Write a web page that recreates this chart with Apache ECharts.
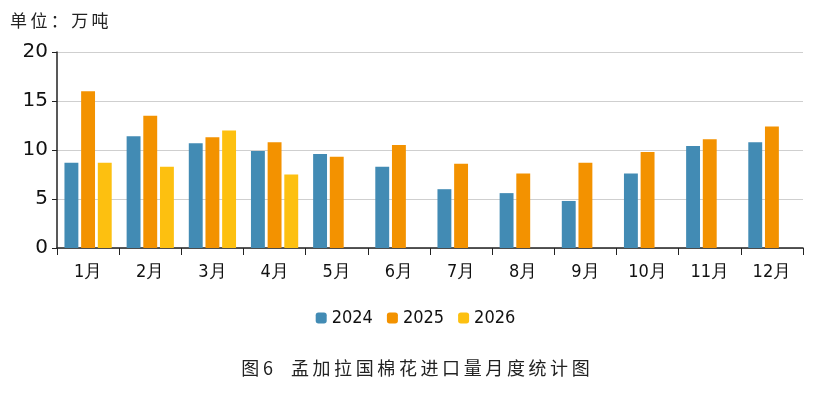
<!DOCTYPE html>
<html>
<head>
<meta charset="utf-8">
<title></title>
<script src="https://cdn.jsdelivr.net/npm/echarts@6/dist/echarts.min.js"></script>
<style>
  html,body{margin:0;padding:0;background:#fff;}
  #chartDiv{width:831px;height:402px;}
</style>
</head>
<body>
<div id="chartDiv"></div>
<script type="text/javascript">
    // 孟加拉国棉花进口量 (万吨)
    var months = ['1月','2月','3月','4月','5月','6月','7月','8月','9月','10月','11月','12月'];
    var y2024 = [8.7, 11.4, 10.7, 9.9, 9.6, 8.3, 6.0, 5.6, 4.8, 7.6, 10.4, 10.8];
    var y2025 = [16.0, 13.5, 11.3, 10.8, 9.3, 10.5, 8.6, 7.6, 8.7, 9.8, 11.1, 12.4];
    var y2026 = [8.7, 8.3, 12.0, 7.5, null, null, null, null, null, null, null, null];
    var yTicks = [0, 5, 10, 15, 20];

    var chart = echarts.init(document.getElementById('chartDiv'));
    var font = 'DejaVu Sans, sans-serif';
    var narrow = '"DejaVu Sans Condensed", "DejaVu Sans", sans-serif';
    var ts = '\u2009';

    var option = {
        animation: false,
        color: ['#428bb4', '#f39200', '#fdc010'],
        graphic: [
            {type:'text', left:10, top:12, style:{text:['单','位','：','万','吨'].join(ts), font:'17px "Noto Sans CJK SC"', fill:'#222'}},
            {type:'text', left:'center', top:359, style:{text:'图' + ts + '6' + '\u3000' + '孟加拉国棉花进口量月度统计图'.split('').join(ts), font:'18px "Noto Sans CJK SC"', fill:'#222'}}
        ],
        legend: {
            bottom: 70,
            left: 'center',
            itemWidth: 11,
            itemHeight: 11,
            itemGap: 14,
            textStyle: {fontFamily: narrow, fontSize: 18, color: '#111'},
            data: ['2024','2025','2026']
        },
        grid: {left: 57, right: 28, top: 52, bottom: 154},
        xAxis: {
            type: 'category',
            data: months,
            axisLine: {lineStyle: {color: '#222', width: 1.5}},
            axisTick: {show: true, length: 7, lineStyle: {color: '#222'}},
            axisLabel: {fontFamily: narrow, fontSize: 18, color: '#111', margin: 15}
        },
        yAxis: {
            type: 'value',
            min: yTicks[0],
            max: yTicks[yTicks.length - 1],
            interval: 5,
            axisLine: {show: true, lineStyle: {color: '#222', width: 1.5}},
            axisTick: {show: true, length: 5, lineStyle: {color: '#222'}},
            axisLabel: {fontFamily: font, fontSize: 20, color: '#111', margin: 9},
            splitLine: {lineStyle: {color: '#cfcfcf', width: 1}}
        },
        series: [
            {name:'2024', type:'bar', data:y2024, barGap:'20%', barCategoryGap:'24%'},
            {name:'2025', type:'bar', data:y2025},
            {name:'2026', type:'bar', data:y2026}
        ]
    };
    chart.setOption(option);
</script>
</body>
</html>
